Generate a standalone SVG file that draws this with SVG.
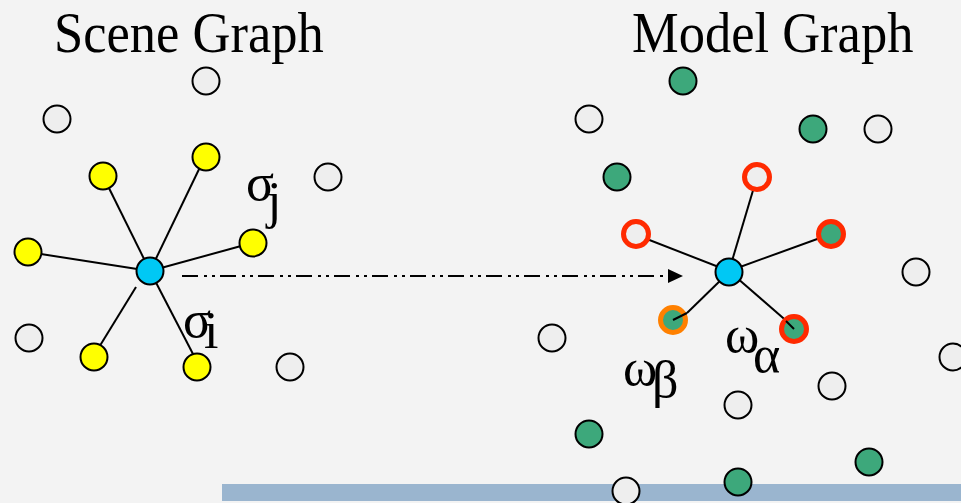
<svg xmlns="http://www.w3.org/2000/svg" width="961" height="503" viewBox="0 0 961 503">
  <defs>
    <style>
      .n { stroke: #000; stroke-width: 2; }
      .light { fill: #eeeeee; }
      .yellow { fill: #ffff00; }
      .blue { fill: #00c8f4; }
      .green { fill: #3da87b; }
      .redring { fill: #eeeeee; stroke: #ff2a00; stroke-width: 5; }
      .redgreen { fill: #3da87b; stroke: #ff2a00; stroke-width: 5; }
      .orangegreen { fill: #3da87b; stroke: #ff8000; stroke-width: 5; }
      .edge { stroke: #000; stroke-width: 2; fill: none; }
      .title { font-family: "Liberation Serif", "Times New Roman", serif; font-size: 52px; fill: #000; }
      .greek { font-family: "Liberation Serif", "Times New Roman", serif; font-size: 52px; fill: #000; }
    </style>
    <marker id="arrow" markerUnits="userSpaceOnUse" markerWidth="16" markerHeight="16" refX="2" refY="7" orient="auto">
      <path d="M0,0 L15,7 L0,14 Z" fill="#000"/>
    </marker>
  </defs>
  <rect x="0" y="0" width="961" height="503" fill="#f3f3f3"/>
  <rect x="222" y="484" width="739" height="17" fill="#9ab5cf"/>

  <text class="title" transform="translate(54,52) scale(1.01,1.1)">Scene Graph</text>
  <text class="title" transform="translate(632,52) scale(1.01,1.1)">Model Graph</text>

  <g id="connectors">
    <line class="edge" x1="150" y1="271" x2="103" y2="176"/>
    <line class="edge" x1="150" y1="271" x2="202" y2="163"/>
    <line class="edge" x1="150" y1="271" x2="252" y2="243"/>
    <line class="edge" x1="150" y1="271" x2="28" y2="252"/>
    <line class="edge" x1="136" y1="287" x2="93" y2="357"/>
    <line class="edge" x1="150" y1="271" x2="193" y2="354"/>
    <line class="edge" x1="729" y1="271" x2="757" y2="177"/>
    <line class="edge" x1="729" y1="271" x2="634" y2="234"/>
    <line class="edge" x1="729" y1="271" x2="831" y2="234"/>
    <line class="edge" x1="729" y1="271" x2="790" y2="324"/>
    <line class="edge" x1="724" y1="277" x2="687" y2="313"/>
    <line x1="182" y1="276" x2="670" y2="276" stroke="#000" stroke-width="2" stroke-dasharray="16 6 3 5 3 5" marker-end="url(#arrow)"/>
  </g>

  <g id="scene-graph">
    <circle id="s-l1" class="n light" cx="206" cy="81" r="13.5"/>
    <circle id="s-l2" class="n light" cx="57" cy="119" r="13.5"/>
    <circle id="s-l3" class="n light" cx="328" cy="177" r="13.5"/>
    <circle id="s-l4" class="n light" cx="29" cy="338" r="13.5"/>
    <circle id="s-l5" class="n light" cx="290" cy="367" r="13.5"/>
    <circle id="s-y1" class="n yellow" cx="103" cy="176" r="13.5"/>
    <circle id="s-y2" class="n yellow" cx="206" cy="157" r="13.5"/>
    <circle id="s-y3" class="n yellow" cx="253" cy="243" r="13.5"/>
    <circle id="s-y4" class="n yellow" cx="28" cy="252" r="13.5"/>
    <circle id="s-y5" class="n yellow" cx="94" cy="357" r="13.5"/>
    <circle id="s-y6" class="n yellow" cx="197" cy="367" r="13.5"/>
    <circle id="s-center" class="n blue" cx="150" cy="271" r="13.5"/>
  </g>

  <g id="model-graph">
    <circle id="m-g1" class="n green" cx="683" cy="81" r="13.5"/>
    <circle id="m-l1" class="n light" cx="589" cy="119" r="13.5"/>
    <circle id="m-g2" class="n green" cx="813" cy="129" r="13.5"/>
    <circle id="m-l2" class="n light" cx="878" cy="129" r="13.5"/>
    <circle id="m-g3" class="n green" cx="617" cy="177" r="13.5"/>
    <circle id="m-l3" class="n light" cx="916" cy="272" r="13.5"/>
    <circle id="m-l4" class="n light" cx="552" cy="338" r="13.5"/>
    <circle id="m-l5" class="n light" cx="953" cy="357" r="13.5"/>
    <circle id="m-l6" class="n light" cx="832" cy="386" r="13.5"/>
    <circle id="m-l7" class="n light" cx="738" cy="405" r="13.5"/>
    <circle id="m-g4" class="n green" cx="589" cy="434" r="13.5"/>
    <circle id="m-g5" class="n green" cx="869" cy="462" r="13.5"/>
    <circle id="m-g6" class="n green" cx="738" cy="482" r="13.5"/>
    <circle id="m-l8" class="n light" cx="626" cy="491" r="13.5"/>
    <circle id="m-r1" class="redring" cx="757" cy="177" r="12.5"/>
    <circle id="m-r2" class="redring" cx="636" cy="234" r="12.5"/>
    <circle id="m-r3" class="redgreen" cx="831" cy="234" r="12.5"/>
    <circle id="m-r4" class="redgreen" cx="794" cy="329" r="12.5"/>
    <circle id="m-o1" class="orangegreen" cx="673" cy="320" r="12.5"/>
    <circle id="m-center" class="n blue" cx="729" cy="272" r="13.5"/>
    <line class="edge" x1="794" y1="329" x2="786" y2="321"/>
    <line class="edge" x1="673" y1="320" x2="687" y2="313" stroke-width="1.5"/>
  </g>

  <g id="labels">
    <text class="greek" x="246" y="200">σ<tspan x="267" y="218">j</tspan></text>
    <text class="greek" x="183" y="337">σ<tspan x="204" y="348">i</tspan></text>
    <text class="greek" x="725" y="352">ω<tspan x="753" y="372">α</tspan></text>
    <text class="greek" x="623" y="385">ω<tspan x="652" y="397">β</tspan></text>
  </g>
</svg>
